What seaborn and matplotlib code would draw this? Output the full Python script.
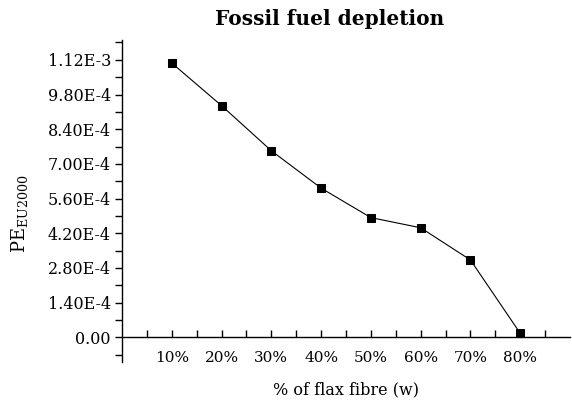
import numpy as np
import pandas as pd
import matplotlib
matplotlib.use("Agg")
import matplotlib.pyplot as plt
from matplotlib.ticker import FixedLocator
import seaborn as sns

# data
flax_share = [0.10, 0.20, 0.30, 0.40, 0.50, 0.60, 0.70, 0.80]
pe_values = [1.107e-3, 9.35e-4, 7.53e-4, 6.02e-4, 4.83e-4, 4.42e-4, 3.12e-4, 1.6e-5]
x_tick_labels = ["10%", "20%", "30%", "40%", "50%", "60%", "70%", "80%"]
y_tick_values = [0.0, 1.4e-4, 2.8e-4, 4.2e-4, 5.6e-4, 7.0e-4, 8.4e-4, 9.8e-4, 1.12e-3]
y_tick_labels = ["0.00", "1.40E-4", "2.80E-4", "4.20E-4", "5.60E-4",
                 "7.00E-4", "8.40E-4", "9.80E-4", "1.12E-3"]

df = pd.DataFrame({"flax": flax_share, "pe": pe_values})

sns.set_style("ticks")
plt.rcParams["font.family"] = ["DejaVu Serif"]
plt.rcParams["mathtext.fontset"] = "dejavuserif"
plt.rcParams["text.color"] = "black"
plt.rcParams["axes.labelcolor"] = "black"

fig = plt.figure(figsize=(5.72, 4.03), dpi=100)
ax = fig.add_axes([0.2133, 0.1017, 0.7832, 0.799])

sns.lineplot(data=df, x="flax", y="pe", ax=ax, color="black", linewidth=0.8,
             marker="s", markersize=5.5, markeredgecolor="black",
             markerfacecolor="black")

ax.set_xlim(0, 0.9)
ax.set_ylim(-1.0e-4, 1.2e-3)

ax.spines["top"].set_visible(False)
ax.spines["right"].set_visible(False)
ax.spines["bottom"].set_position(("data", 0))
for s in ["left", "bottom"]:
    ax.spines[s].set_linewidth(1.0)
    ax.spines[s].set_color("black")

ax.set_xticks(flax_share)
ax.set_xticklabels(x_tick_labels)
ax.xaxis.set_minor_locator(FixedLocator(np.arange(0.05, 0.9, 0.1)))
ax.set_yticks(y_tick_values)
ax.set_yticklabels(y_tick_labels)
ax.yaxis.set_minor_locator(FixedLocator(np.arange(-0.7e-4, 1.2e-3, 1.4e-4)))

ax.tick_params(axis="x", which="both", direction="in", length=5, width=1,
               pad=10, labelsize=11, colors="black")
ax.tick_params(axis="y", which="both", direction="out", length=5, width=1,
               pad=3, labelsize=11.5, colors="black")

ax.set_xlabel("% of flax fibre (w)", fontsize=11.5, labelpad=12, color="black")
ax.set_ylabel(r"PE$_{\mathrm{EU2000}}$", fontsize=13, color="black")
ax.yaxis.set_label_coords(-0.205, 0.46)
ax.set_title("Fossil fuel depletion", fontsize=14.5, fontweight="bold",
             color="black", x=0.464, pad=11)

fig.savefig("out.png", dpi=100)
